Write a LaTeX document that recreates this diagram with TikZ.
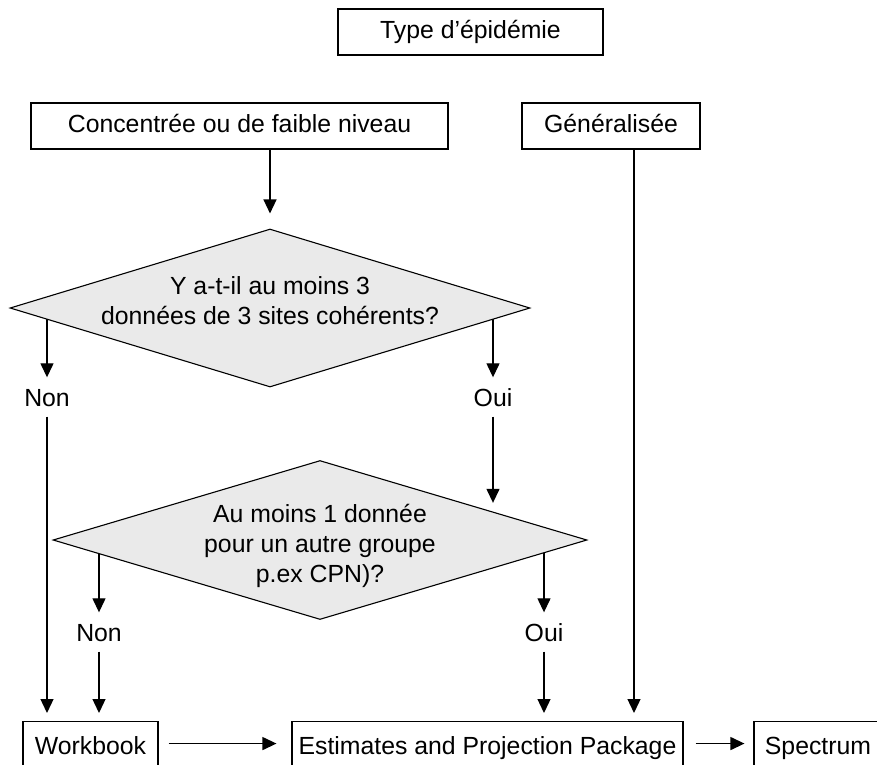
\documentclass[tikz,border=0pt]{standalone}
\usepackage{fontspec}
\setmainfont{Liberation Sans}
\usetikzlibrary{shapes.geometric,arrows.meta,calc,backgrounds}
\definecolor{decisiongray}{HTML}{EAEAEA}

\begin{document}
\begin{tikzpicture}[x=1pt,y=-1pt,
    font=\fontsize{24.8}{30}\selectfont,
    box/.style={draw, line width=1.1pt, inner sep=0pt, minimum height=46pt,
        text height=18.5pt, text depth=5pt},
    decision/.style={diamond, draw, line width=1.1pt, fill=decisiongray, inner sep=0pt},
    answer/.style={inner sep=10.5pt, text height=18pt, text depth=0pt},
    flow/.style={line width=1.3pt, -{Triangle[length=14pt,width=13pt]}}]
    \useasboundingbox (0,0) rectangle (877,764);
    \clip (0,0) rectangle (877,764);

    % Top row
    \node[box, minimum width=265pt] (type) at (470.5,32) {Type d’épidémie};
    \node[box, minimum width=417pt] (conc) at (239.5,126) {Concentrée ou de faible niveau};
    \node[box, minimum width=178pt] (gen) at (611,126) {Généralisée};

    % Decisions
    \node[decision, minimum width=520pt, minimum height=158pt] (q1) at (270,308) {};
    \node[align=center] (q1text) at (270,301) {Y a-t-il au moins 3\\données de 3 sites cohérents?};
    \node[decision, minimum width=534pt, minimum height=159pt] (q2) at (320,540) {};
    \node[align=center] (q2text) at (320,546) {Au moins 1 donnée\\pour un autre groupe\\p.ex CPN)?};
    \coordinate (q2edge) at ($(q2.north)!0.648!(q2.east)$);

    % Answers
    \node[answer] (non1) at (47,397) {Non};
    \node[answer] (oui1) at (493,397) {Oui};
    \node[answer] (non2) at (99,632) {Non};
    \node[answer] (oui2) at (544,632) {Oui};

    % Bottom row, cut by the frame
    \node[box, minimum width=135pt, minimum height=52pt, anchor=north] (wb) at (90.5,721) {Workbook};
    \node[box, minimum width=391pt, minimum height=52pt, anchor=north] (epp) at (487.5,721) {Estimates and Projection Package};
    \node[box, minimum width=128pt, minimum height=52pt, anchor=north] (spec) at (818,721) {Spectrum};

    % Arrows leaving the diamonds (hidden under the fill)
    \begin{pgfonlayer}{background}
        \draw[flow] (q1 -| non1) -- (non1.north);
        \draw[flow] (q1 -| oui1) -- (oui1.north);
        \draw[flow] (q2 -| non2) -- (non2.north);
        \draw[flow] (q2 -| oui2) -- (oui2.north);
    \end{pgfonlayer}

    % Other arrows
    \draw[flow, shorten >=15pt] (conc.south -| q1) -- (q1.north);
    \draw[flow, shorten >=8pt] ([xshift=23pt]gen.south) -- ([xshift=23pt]gen.south |- epp.north);
    \draw[flow, shorten >=8pt] (non1.south) -- (non1 |- wb.north);
    \draw[flow, shorten >=9pt] (oui1.south) -- (oui1 |- q2edge);
    \draw[flow, shorten >=8pt] (non2.south) -- (non2 |- wb.north);
    \draw[flow, shorten >=8pt] (oui2.south) -- (oui2 |- epp.north);
    \draw[flow, shorten <=10pt, shorten >=15pt] ([yshift=4pt]wb.east) -- ([yshift=4pt]epp.west);
    \draw[flow, shorten <=12pt, shorten >=9pt] ([yshift=4pt]epp.east) -- ([yshift=4pt]spec.west);
\end{tikzpicture}
\end{document}
